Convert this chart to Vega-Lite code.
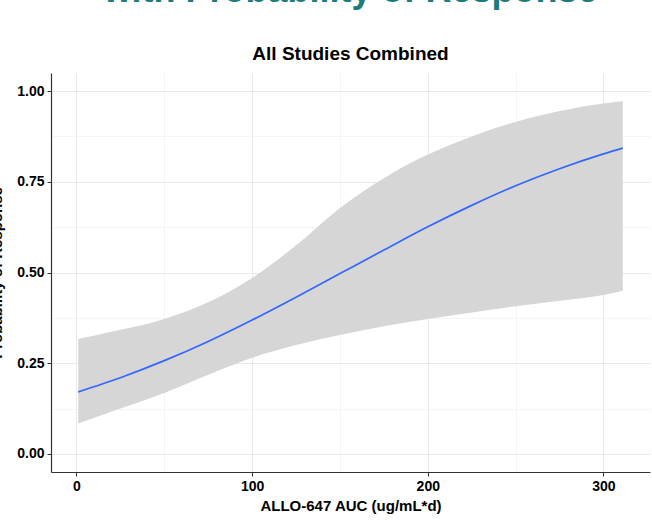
{
  "$schema": "https://vega.github.io/schema/vega-lite/v6.json",
  "width": 599,
  "height": 399,
  "autosize": {"type": "none"},
  "padding": {"left": 51, "top": 73, "right": 2, "bottom": 52},
  "background": "white",
  "title": {
    "text": "with Probability of Response",
    "subtitle": "All Studies Combined",
    "anchor": "middle",
    "frame": "group",
    "font": "Liberation Sans",
    "fontSize": 36,
    "fontWeight": "bold",
    "color": "#1c7c7d",
    "subtitleFont": "Liberation Sans",
    "subtitleFontSize": 19,
    "subtitleFontWeight": "bold",
    "subtitleColor": "#000000",
    "subtitlePadding": 35,
    "offset": 8
  },
  "data": {
    "values": [
      {"auc": 1, "fit": 0.171, "lo": 0.084, "hi": 0.317},
      {"auc": 25, "fit": 0.210, "lo": 0.125, "hi": 0.342},
      {"auc": 50, "fit": 0.257, "lo": 0.168, "hi": 0.372},
      {"auc": 75, "fit": 0.310, "lo": 0.218, "hi": 0.418},
      {"auc": 100, "fit": 0.369, "lo": 0.265, "hi": 0.485},
      {"auc": 125, "fit": 0.432, "lo": 0.300, "hi": 0.575},
      {"auc": 150, "fit": 0.497, "lo": 0.328, "hi": 0.678},
      {"auc": 175, "fit": 0.562, "lo": 0.352, "hi": 0.760},
      {"auc": 200, "fit": 0.626, "lo": 0.372, "hi": 0.825},
      {"auc": 225, "fit": 0.685, "lo": 0.390, "hi": 0.875},
      {"auc": 250, "fit": 0.739, "lo": 0.407, "hi": 0.915},
      {"auc": 275, "fit": 0.786, "lo": 0.422, "hi": 0.945},
      {"auc": 300, "fit": 0.827, "lo": 0.438, "hi": 0.966},
      {"auc": 311, "fit": 0.843, "lo": 0.450, "hi": 0.972}
    ]
  },
  "encoding": {
    "x": {
      "field": "auc",
      "type": "quantitative",
      "scale": {"domain": [-14.5, 326.5], "nice": false, "zero": false},
      "axis": {
        "title": "ALLO-647 AUC (ug/mL*d)",
        "values": [0, 50, 100, 150, 200, 250, 300],
        "labelExpr": "datum.value % 100 === 0 ? datum.label : ''",
        "tickOpacity": {"condition": {"test": "datum.value % 100 !== 0", "value": 0}, "value": 1},
        "gridColor": {"condition": {"test": "datum.value % 100 !== 0", "value": "#f4f4f4"}, "value": "#e9e9e9"},
        "titlePadding": 5
      }
    }
  },
  "layer": [
    {
      "mark": {"type": "area", "color": "#d6d6d6", "opacity": 1, "interpolate": "monotone"},
      "encoding": {
        "y": {
          "field": "lo",
          "type": "quantitative",
          "scale": {"domain": [-0.05, 1.05], "nice": false, "zero": false},
          "axis": {
            "title": "Probability of Response",
            "values": [0, 0.125, 0.25, 0.375, 0.5, 0.625, 0.75, 0.875, 1],
            "labelExpr": "abs(datum.value * 4 - round(datum.value * 4)) < 0.000001 ? format(datum.value, '.2f') : ''",
            "tickOpacity": {"condition": {"test": "abs(datum.value * 4 - round(datum.value * 4)) > 0.000001", "value": 0}, "value": 1},
            "gridColor": {"condition": {"test": "abs(datum.value * 4 - round(datum.value * 4)) > 0.000001", "value": "#f4f4f4"}, "value": "#e9e9e9"},
            "titlePadding": 12
          }
        },
        "y2": {"field": "hi"}
      }
    },
    {
      "mark": {"type": "line", "color": "#3366ff", "strokeWidth": 1.7, "interpolate": "monotone"},
      "encoding": {
        "y": {"field": "fit", "type": "quantitative"}
      }
    }
  ],
  "config": {
    "view": {"stroke": null},
    "axis": {
      "labelFont": "Liberation Sans",
      "labelFontWeight": "bold",
      "labelFontSize": 14,
      "labelColor": "#000000",
      "titleFont": "Liberation Sans",
      "titleFontWeight": "bold",
      "titleFontSize": 15,
      "titleColor": "#000000",
      "domainColor": "#333333",
      "domainWidth": 1.2,
      "tickColor": "#333333",
      "tickSize": 4,
      "labelPadding": 3,
      "gridWidth": 1
    }
  }
}
